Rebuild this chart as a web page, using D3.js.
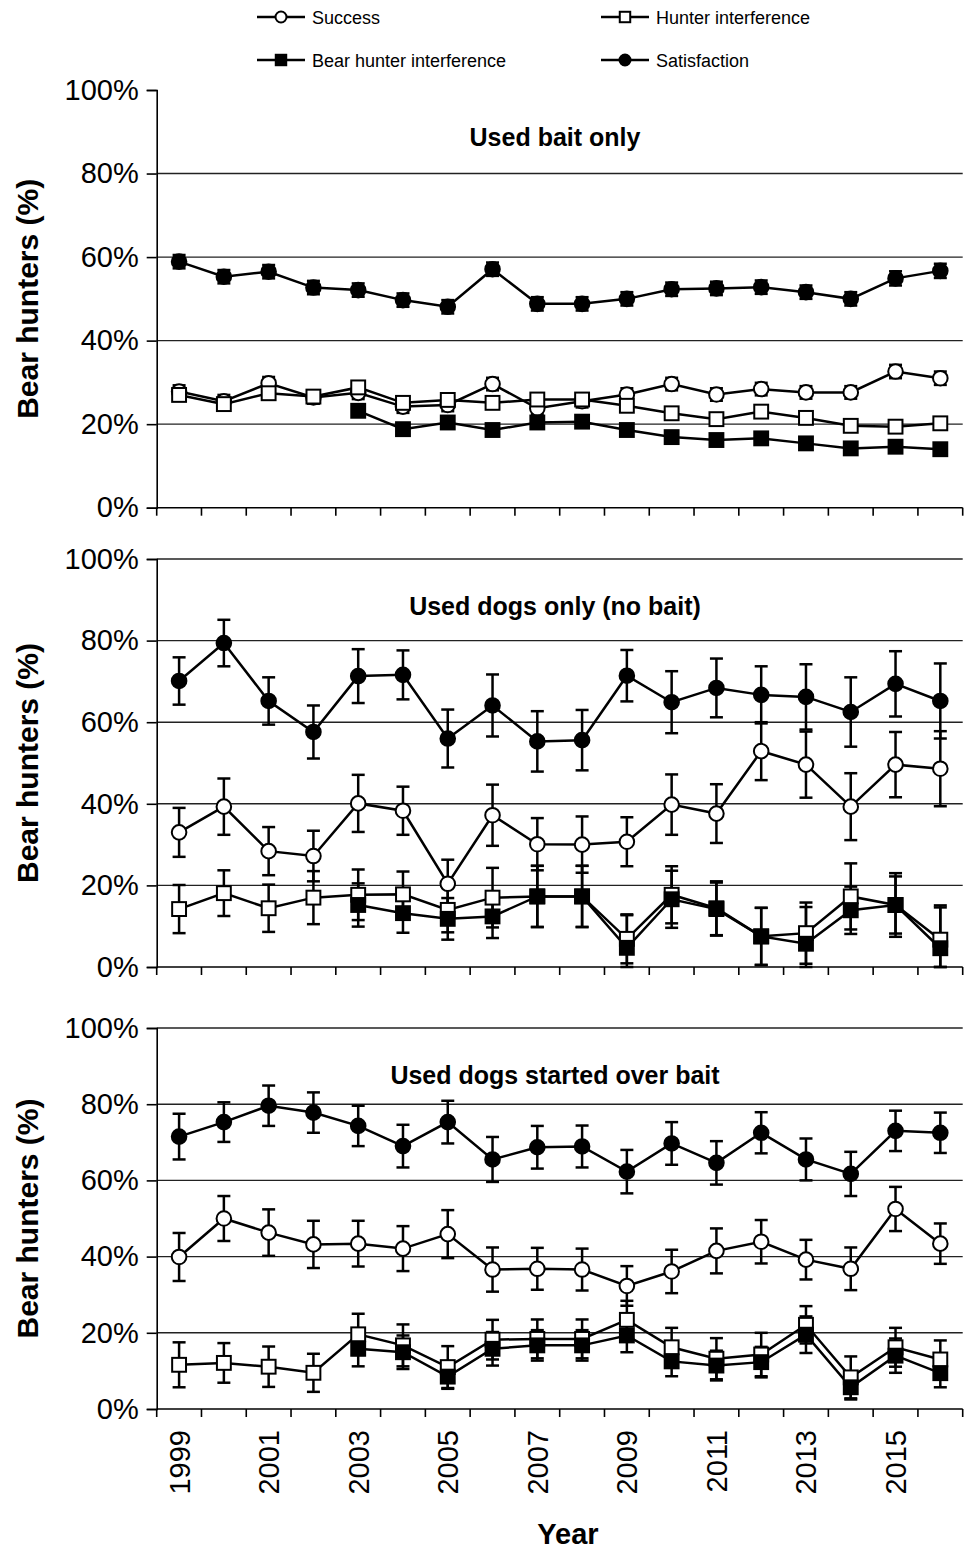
<!DOCTYPE html>
<html><head><meta charset="utf-8">
<script src="https://cdn.jsdelivr.net/npm/d3@7"></script>
<style>body{margin:0;background:#fff}svg{display:block}text{font-family:"Liberation Sans",Arial,sans-serif}</style>
</head><body>
<svg id="c" width="971" height="1549"></svg>
<script>
const years = [1999,2000,2001,2002,2003,2004,2005,2006,2007,2008,2009,2010,2011,2012,2013,2014,2015,2016];
const yTicks = [0,20,40,60,80,100];
const xTickLabels = [1999,2001,2003,2005,2007,2009,2011,2013,2015];
const seriesNames = ["Success","Hunter interference","Bear hunter interference","Satisfaction"];
const panelTitles = ["Used bait only","Used dogs only (no bait)","Used dogs started over bait"];

// Panel 1: used bait only
const baitSuccess    = [27.8,25.5,29.8,26.4,27.5,24.2,24.6,29.6,23.8,25.5,27.1,29.6,27.1,28.4,27.6,27.6,32.6,31.0];
const baitSuccessErr = [1.5,1.5,1.5,1.5,1.5,1.5,1.5,1.5,1.5,1.5,1.5,1.5,1.5,1.5,1.5,1.5,1.6,1.6];
const baitHunter     = [27.0,24.8,27.4,26.6,28.8,25.1,25.8,25.1,25.9,25.9,24.4,22.6,21.2,23.0,21.5,19.6,19.4,20.2];
const baitHunterErr  = [1.3,1.3,1.3,1.3,1.3,1.3,1.3,1.3,1.3,1.3,1.3,1.3,1.3,1.3,1.3,1.3,1.3,1.3];
const baitBear       = [null,null,null,null,23.2,18.8,20.4,18.6,20.4,20.6,18.6,16.9,16.2,16.6,15.4,14.2,14.6,14.0];
const baitBearErr    = [null,null,null,null,1.2,1.2,1.2,1.2,1.2,1.2,1.2,1.2,1.2,1.2,1.2,1.2,1.2,1.2];
const baitSatisf     = [58.9,55.3,56.5,52.7,52.1,49.7,48.1,57.1,48.8,48.8,50.0,52.3,52.5,52.8,51.6,50.0,54.9,56.7];
const baitSatisfErr  = [1.6,1.6,1.6,1.6,1.6,1.6,1.6,1.6,1.6,1.6,1.6,1.6,1.6,1.6,1.6,1.6,1.7,1.7];

// Panel 2: used dogs only (no bait)
const dogsSuccess    = [33.0,39.3,28.4,27.2,40.1,38.3,20.4,37.2,30.1,30.0,30.7,39.8,37.6,52.9,49.6,39.3,49.6,48.6];
const dogsSuccessErr = [6.0,6.9,5.9,6.2,7.0,5.9,5.9,7.5,6.4,6.9,6.0,7.4,7.2,7.1,8.1,8.2,8.0,9.2];
const dogsHunter     = [14.2,18.1,14.4,17.0,17.7,17.8,14.0,17.0,17.3,17.3,6.9,17.7,14.4,7.5,8.3,17.3,15.2,6.7];
const dogsHunterErr  = [5.9,5.6,5.8,6.5,6.2,5.6,5.5,7.3,7.5,7.5,6.0,7.0,6.6,7.0,7.5,8.1,7.8,8.4];
const dogsBear       = [null,null,null,null,15.2,13.2,11.8,12.4,17.3,17.3,4.7,16.6,14.2,7.5,5.7,13.9,15.2,4.6];
const dogsBearErr    = [null,null,null,null,5.3,4.8,5.1,5.3,7.5,7.5,8.0,7.0,6.5,7.0,9.0,5.8,7.0,10.0];
const dogsSatisf     = [70.1,79.4,65.2,57.6,71.3,71.6,56.0,64.1,55.3,55.6,71.4,64.9,68.4,66.7,66.2,62.5,69.4,65.2];
const dogsSatisfErr  = [5.8,5.7,5.8,6.5,6.6,6.0,7.1,7.6,7.4,7.4,6.3,7.6,7.2,7.0,8.0,8.5,8.0,9.2];

// Panel 3: used dogs started over bait
const overSuccess    = [39.9,50.0,46.3,43.2,43.4,42.1,45.9,36.6,36.8,36.6,32.3,36.1,41.5,43.9,39.2,36.8,52.5,43.4];
const overSuccessErr = [6.3,5.9,6.1,6.2,6.0,5.9,6.3,5.8,5.5,5.5,5.2,5.7,5.9,5.7,5.2,5.6,5.8,5.3];
const overHunter     = [11.6,12.1,11.1,9.5,19.6,16.7,11.0,18.2,18.4,18.4,23.4,16.2,13.2,14.3,22.1,8.3,16.2,13.0];
const overHunterErr  = [5.9,5.2,5.3,5.0,5.4,5.5,5.5,5.2,5.1,5.1,5.0,5.1,5.4,5.7,4.9,5.5,5.1,5.0];
const overBear       = [null,null,null,null,15.8,14.9,8.5,15.8,16.7,16.7,19.3,12.5,11.4,12.3,19.5,5.7,14.0,9.4];
const overBearErr    = [null,null,null,null,4.6,4.4,3.2,4.4,4.0,4.0,4.4,3.9,3.9,4.0,4.8,3.2,4.5,3.7];
const overSatisf     = [71.5,75.3,79.6,77.8,74.3,69.0,75.3,65.5,68.7,68.9,62.3,69.7,64.6,72.5,65.5,61.7,73.0,72.5];
const overSatisfErr  = [6.0,5.2,5.3,5.3,5.3,5.6,5.6,5.9,5.6,5.5,5.7,5.6,5.7,5.4,5.5,5.8,5.3,5.3];

const panelData = [
  [[baitSuccess,baitSuccessErr],[baitHunter,baitHunterErr],[baitBear,baitBearErr],[baitSatisf,baitSatisfErr]],
  [[dogsSuccess,dogsSuccessErr],[dogsHunter,dogsHunterErr],[dogsBear,dogsBearErr],[dogsSatisf,dogsSatisfErr]],
  [[overSuccess,overSuccessErr],[overHunter,overHunterErr],[overBear,overBearErr],[overSatisf,overSatisfErr]]
];

// layout
const L = 156.7, R = 962.7;
const panels = [{top:90,bottom:507.7,topGrid:false},{top:559,bottom:967,topGrid:true},{top:1028,bottom:1409,topGrid:true}];
const markerKind = ["circleOpen","squareOpen","squareFilled","circleFilled"];

const svg = d3.select("#c");
const x = d3.scaleBand().domain(years).range([L,R]).padding(0);
const cx = yv => x(yv) + x.bandwidth()/2;

function marker(g, kind, px, py, s){
  if(kind.startsWith("circle")){
    g.append("circle").attr("cx",px).attr("cy",py).attr("r",s)
      .attr("fill",kind.endsWith("Filled")?"#000":"#fff").attr("stroke","#000").attr("stroke-width",2);
  } else {
    const h = s*0.95;
    g.append("rect").attr("x",px-h).attr("y",py-h).attr("width",2*h).attr("height",2*h)
      .attr("fill",kind.endsWith("Filled")?"#000":"#fff").attr("stroke","#000").attr("stroke-width",2);
  }
}

panels.forEach((p,pi)=>{
  const y = d3.scaleLinear().domain([0,100]).range([p.bottom,p.top]);
  const g = svg.append("g");
  // gridlines
  yTicks.filter(t=>t>0 && (t<100 || p.topGrid)).forEach(t=>{
    g.append("line").attr("x1",L).attr("x2",R).attr("y1",y(t)).attr("y2",y(t))
      .attr("stroke","#222").attr("stroke-width",1.4);
  });
  // y axis
  const ya = d3.axisLeft(y).tickValues(yTicks).tickFormat(d=>d+"%").tickSize(10).tickPadding(8);
  const yg = g.append("g").attr("transform",`translate(${L},0)`).call(ya);
  yg.select(".domain").attr("stroke","#000").attr("stroke-width",1.6);
  yg.selectAll(".tick line").attr("stroke","#000").attr("stroke-width",1.6);
  yg.selectAll(".tick text").attr("font-size",29).attr("fill","#000").attr("font-family","Liberation Sans, Arial, sans-serif");
  // x axis line + ticks at band boundaries
  g.append("line").attr("x1",L).attr("x2",R).attr("y1",p.bottom).attr("y2",p.bottom).attr("stroke","#000").attr("stroke-width",1.6);
  const bounds = years.map(v=>x(v)).concat([R]);
  bounds.forEach(bx=>{
    g.append("line").attr("x1",bx).attr("x2",bx).attr("y1",p.bottom).attr("y2",p.bottom+8).attr("stroke","#000").attr("stroke-width",1.6);
  });
  // y title
  g.append("text").attr("transform",`translate(38,${(p.top+p.bottom)/2}) rotate(-90)`)
    .attr("text-anchor","middle").attr("font-size",30).attr("font-weight","bold").text("Bear hunters (%)");
  // panel title
  g.append("text").attr("x",555).attr("y",p.top+56).attr("text-anchor","middle")
    .attr("font-size",25).attr("font-weight","bold").text(panelTitles[pi]);

  const data = panelData[pi];
  // lines
  data.forEach((sd,si)=>{
    const vals = sd[0];
    const pts = years.map((yr,i)=>({yr,v:vals[i]}));
    const line = d3.line().defined(d=>d.v!=null).x(d=>cx(d.yr)).y(d=>y(d.v));
    g.append("path").attr("d",line(pts)).attr("fill","none").attr("stroke","#000").attr("stroke-width",2.5);
  });
  // error bars
  data.forEach((sd,si)=>{
    const vals = sd[0], errs = sd[1];
    years.forEach((yr,i)=>{
      if(vals[i]==null) return;
      const lo = Math.max(0,vals[i]-errs[i]), hi = Math.min(100,vals[i]+errs[i]);
      const px = cx(yr);
      g.append("line").attr("x1",px).attr("x2",px).attr("y1",y(lo)).attr("y2",y(hi)).attr("stroke","#000").attr("stroke-width",2.5);
      [lo,hi].forEach(v=>g.append("line").attr("x1",px-6.5).attr("x2",px+6.5).attr("y1",y(v)).attr("y2",y(v)).attr("stroke","#000").attr("stroke-width",2.5));
    });
  });
  // markers
  data.forEach((sd,si)=>{
    const vals = sd[0];
    years.forEach((yr,i)=>{
      if(vals[i]==null) return;
      marker(g, markerKind[si], cx(yr), y(vals[i]), 7.3);
    });
  });
  // x tick labels on bottom panel
  if(pi===2){
    xTickLabels.forEach(v=>{
      g.append("text").attr("transform",`translate(${cx(v)},${p.bottom+21}) rotate(-90)`)
        .attr("text-anchor","end").attr("dy","0.36em").attr("font-size",29).text(v);
    });
    g.append("text").attr("x",568).attr("y",1544).attr("text-anchor","middle")
      .attr("font-size",29).attr("font-weight","bold").text("Year");
  }
});

// legend
const legPos = [[281,17],[625,17],[281,60],[625,60]];
seriesNames.forEach((nm,i)=>{
  const [mx,my] = legPos[i];
  const lg = svg.append("g");
  lg.append("line").attr("x1",mx-24).attr("x2",mx+24).attr("y1",my).attr("y2",my).attr("stroke","#000").attr("stroke-width",2.5);
  marker(lg, markerKind[i], mx, my, 5.5);
  lg.append("text").attr("x",mx+31).attr("y",my+6.5).attr("font-size",18).text(nm);
});
</script>
</body></html>
